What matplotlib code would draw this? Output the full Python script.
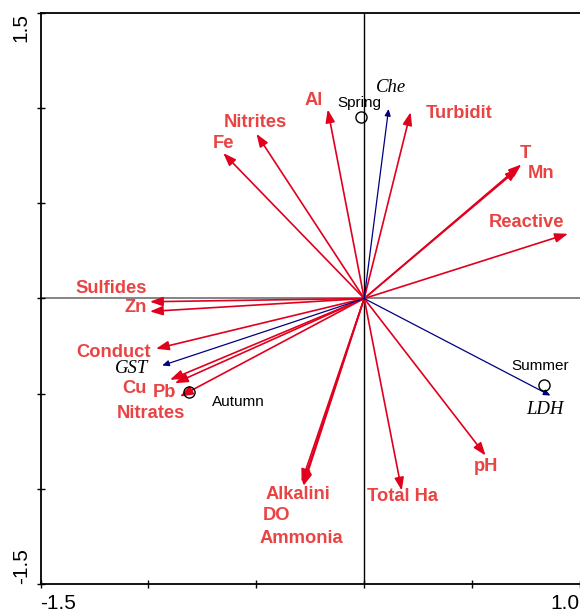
import matplotlib
matplotlib.use("Agg")
import matplotlib.pyplot as plt

plt.rcParams['font.family'] = ['Liberation Sans', 'DejaVu Sans']

# Environmental variables (red arrows): tip coordinates
env_names = ['Al', 'Turbidit', 'Nitrites', 'Fe', 'T', 'Mn', 'Reactive',
             'Sulfides', 'Zn', 'Conduct', 'Cu', 'Pb', 'Nitrates',
             'pH', 'Alkalini', 'DO', 'Ammonia', 'Total Ha']
env_x = [-0.169, 0.215, -0.499, -0.653, 0.728, 0.714, 0.944,
         -0.993, -0.993, -0.965, -0.900, -0.877, -0.854,
         0.5625, -0.285, -0.290, -0.282, 0.174]
env_y = [0.993, 0.979, 0.865, 0.764, 0.704, 0.682, 0.340,
         -0.017, -0.068, -0.264, -0.427, -0.445, -0.515,
         -0.825, -0.977, -0.965, -0.985, -1.009]
# label anchor positions
env_lx = [-0.232, 0.439, -0.502, -0.654, 0.748, 0.819, 0.751,
          -1.174, -1.058, -1.163, -1.066, -0.927, -0.990,
          0.5625, -0.308, -0.405, -0.289, 0.178]
env_ly = [1.040, 0.971, 0.923, 0.813, 0.760, 0.655, 0.401,
          0.051, -0.049, -0.285, -0.471, -0.496, -0.606,
          -0.883, -1.028, -1.139, -1.261, -1.040]

# Biological responses (blue arrows)
bio_names = ['Che', 'GST', 'LDH']
bio_x = [0.113, -0.936, 0.863]
bio_y = [0.996, -0.352, -0.510]
bio_lx = [0.126, -1.078, 0.836]
bio_ly = [1.107, -0.369, -0.585]

# Seasons (samples)
season_names = ['Spring', 'Summer', 'Autumn']
season_x = [-0.016, 0.832, -0.813]
season_y = [0.953, -0.457, -0.489]
season_lx = [-0.021, 0.816, -0.706]
season_ly = [1.025, -0.357, -0.545]
season_ha = ['center', 'center', 'left']

xticks = [-1.5, -1.0, -0.5, 0.0, 0.5, 1.0]
xticklabels = ['-1.5', '', '', '', '', '1.0']
yticks = [-1.5, -1.0, -0.5, 0.0, 0.5, 1.0, 1.5]
yticklabels = ['-1.5', '', '', '', '', '', '1.5']

RED = '#e0001e'
RED_TXT = '#e84444'
BLUE = '#000080'

fig = plt.figure(figsize=(5.8, 6.13), dpi=100)
ax = fig.add_axes([40.5 / 580, 29 / 613, 539.5 / 580, 571 / 613])
ax.set_xlim(-1.5, 1.0)
ax.set_ylim(-1.5, 1.5)

ax.axhline(0, color='#707070', lw=1.2, zorder=1)
ax.axvline(0, color='black', lw=1.0, zorder=1)

for x, y in zip(env_x, env_y):
    ax.annotate('', xy=(x, y), xytext=(0, 0),
                arrowprops=dict(arrowstyle='-|>,head_length=0.55,head_width=0.2',
                                mutation_scale=14, color=RED, lw=1.2,
                                shrinkA=0, shrinkB=0), zorder=3)
for n, lx, ly in zip(env_names, env_lx, env_ly):
    ax.text(lx, ly, n, color=RED_TXT, fontsize=13.2, fontweight='bold',
            ha='center', va='center', zorder=4)

for x, y in zip(bio_x, bio_y):
    ax.annotate('', xy=(x, y), xytext=(0, 0),
                arrowprops=dict(arrowstyle='-|>,head_length=0.5,head_width=0.22',
                                mutation_scale=8, color=BLUE, lw=0.9,
                                shrinkA=0, shrinkB=0), zorder=3)
for n, lx, ly in zip(bio_names, bio_lx, bio_ly):
    ax.text(lx, ly, n, color='black', fontsize=13.5, style='italic',
            family=['Liberation Serif', 'DejaVu Serif'],
            ha='center', va='center', zorder=4)

ax.plot(season_x, season_y, 'o', mfc='none', mec='black', mew=1.0,
        ms=8, zorder=5)
for n, lx, ly, ha in zip(season_names, season_lx, season_ly, season_ha):
    ax.text(lx, ly, n, color='black', fontsize=11, ha=ha, va='center', zorder=4)

ax.spines['right'].set_visible(False)
for s in ['left', 'top', 'bottom']:
    ax.spines[s].set_linewidth(1.3)
    ax.spines[s].set_color('black')

ax.set_xticks(xticks)
ax.set_xticklabels(xticklabels, fontsize=15)
ax.set_yticks(yticks)
ax.set_yticklabels(yticklabels, fontsize=15, rotation=90)
ax.tick_params(axis='both', direction='inout', length=6, width=1.0)
ax.tick_params(axis='x', pad=4.5)
ax.tick_params(axis='y', pad=4)

xl = ax.get_xticklabels()
xl[0].set_ha('left')
xl[-1].set_ha('right')
yl = ax.get_yticklabels()
yl[0].set_va('bottom')
yl[-1].set_va('top')

fig.savefig('out.png', dpi=100)
